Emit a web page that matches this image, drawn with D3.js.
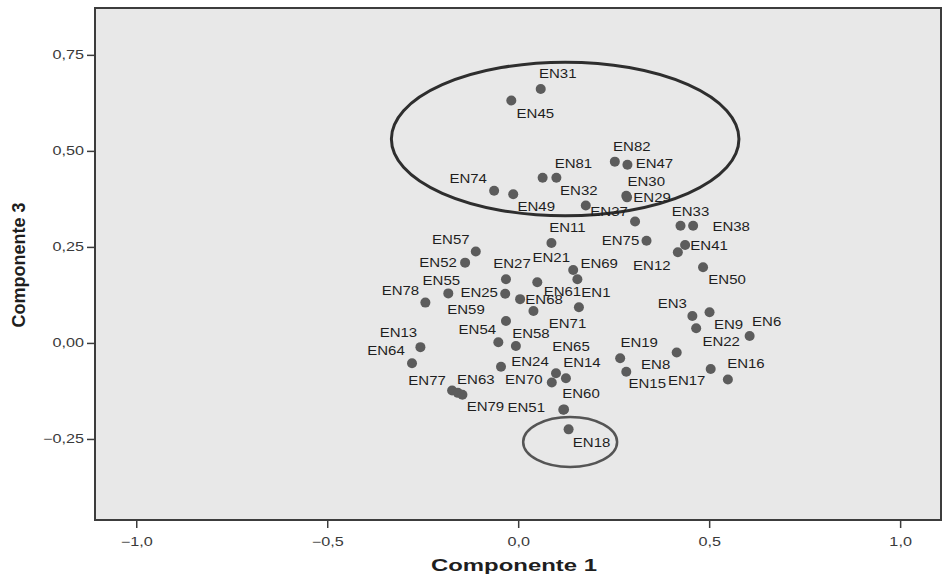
<!DOCTYPE html>
<html>
<head>
<meta charset="utf-8">
<script src="https://cdn.jsdelivr.net/npm/d3@7"></script>
<style>
  body { margin: 0; background: #fff; }
  text { font-family: "Liberation Sans", Arial, sans-serif; }
</style>
</head>
<body>
<script>
const w = 942;
const h = 580;

// point names and loadings (Componente 1, Componente 3)
const names = ["EN31", "EN45", "EN82", "EN47", "", "EN81", "EN74", "EN49", "EN32", "EN30",
  "EN29", "EN37", "EN33", "EN38", "EN11", "EN75", "EN41", "EN12", "EN50", "EN57",
  "EN52", "EN27", "EN21", "EN69", "EN61", "EN55", "EN25", "EN78", "EN68", "EN71",
  "EN1", "EN59", "EN54", "EN58", "EN65", "EN13", "EN64", "EN24", "EN14", "EN70",
  "EN77", "EN63", "EN79", "EN60", "EN51", "EN18", "EN3", "EN9", "EN22", "EN6",
  "EN19", "EN15", "EN8", "EN17", "EN16"];
const comp1 = [0.059, -0.018, 0.253, 0.286, 0.064, 0.100, -0.063, -0.013, 0.177, 0.283,
  0.285, 0.306, 0.425, 0.458, 0.087, 0.336, 0.437, 0.418, 0.484, -0.111,
  -0.139, -0.032, 0.050, 0.144, 0.155, -0.183, -0.034, -0.243, 0.005, 0.040,
  0.159, -0.032, -0.052, -0.006, 0.099, -0.256, -0.278, -0.045, 0.125, 0.088,
  -0.173, -0.158, -0.146, 0.120, 0.118, 0.132, 0.456, 0.501, 0.466, 0.606,
  0.267, 0.283, 0.415, 0.504, 0.549];
const comp3 = [0.661, 0.631, 0.472, 0.464, 0.430, 0.430, 0.396, 0.387, 0.358, 0.383,
  0.379, 0.316, 0.305, 0.305, 0.260, 0.266, 0.255, 0.236, 0.197, 0.238,
  0.209, 0.166, 0.158, 0.190, 0.166, 0.129, 0.128, 0.105, 0.114, 0.083,
  0.093, 0.057, 0.002, -0.008, -0.079, -0.011, -0.053, -0.062, -0.092, -0.103,
  -0.124, -0.130, -0.135, -0.173, -0.174, -0.225, 0.070, 0.080, 0.038, 0.018,
  -0.040, -0.075, -0.025, -0.068, -0.095];

const xTicks = [-1.0, -0.5, 0.0, 0.5, 1.0];
const yTicks = [-0.25, 0.0, 0.25, 0.5, 0.75];

// highlighted groups: [cx, cy, rx, ry] in data units
const groupEllipses = [[0.123, 0.531, 0.455, 0.2], [0.136, -0.258, 0.123, 0.065]];

// label placement around each dot (pixels)
const labelOffset = {
  EN31: [17, -15], EN45: [24, 13], EN82: [17, -15], EN47: [27, -1], EN81: [17, -14],
  EN74: [-26, -12], EN49: [23, 13], EN32: [-7, -14], EN30: [20, -14], EN29: [25, 1],
  EN37: [-26, -10], EN33: [10, -14], EN38: [38, 1], EN11: [16, -15], EN75: [-26, 0],
  EN41: [24, 1], EN12: [-26, 14], EN50: [24, 13], EN57: [-25, -12], EN52: [-27, 0],
  EN27: [6, -15], EN21: [14, -24], EN69: [26, -6], EN61: [-15, 13], EN55: [-7, -12],
  EN25: [-26, -1], EN78: [-25, -12], EN68: [24, 1], EN71: [34, 13], EN1: [17, -14],
  EN59: [-40, -11], EN54: [-21, -12], EN58: [15, -12], EN65: [15, -26], EN13: [-22, -14],
  EN64: [-26, -12], EN24: [29, -5], EN14: [16, -15], EN70: [-28, -3], EN77: [-25, -10],
  EN63: [18, -13], EN79: [23, 12], EN60: [17, -15], EN51: [-37, -2], EN18: [23, 14],
  EN3: [-20, -12], EN9: [19, 13], EN22: [25, 14], EN6: [17, -14], EN19: [19, -15],
  EN15: [21, 12], EN8: [-21, 12], EN17: [-24, 12], EN16: [18, -15]
};

const data = names.map((n, i) => ({ name: n, x: comp1[i], y: comp3[i] }));

const mLeft = 95, mRight = 941, mTop = 8, mBottom = 520;
// the source picture is wider than tall, so its lettering looks stretched
const tickStretch = 1.35, labelStretch = 1.2, titleStretch = 1.45;

const svg = d3.select("body").append("svg").attr("width", w).attr("height", h);

const xScale = d3.scaleLinear().domain([-1.108, 1.107]).range([mLeft, mRight]);
const yScale = d3.scaleLinear().domain([-0.461, 0.872]).range([mBottom, mTop]);

const fmt = (d, n) => d3.format("." + n + "f")(d).replace(".", ",");

// plot background
svg
  .append("rect")
  .attr("x", mLeft)
  .attr("y", mTop)
  .attr("width", mRight - mLeft)
  .attr("height", mBottom - mTop)
  .style("fill", "#e8e8e8")
  .style("stroke", "#3c3c3c")
  .style("stroke-width", 2);

//axes
const xAxis = d3.axisBottom(xScale).tickValues(xTicks).tickSize(8).tickSizeOuter(0).tickFormat((d) => fmt(d, 1));
const yAxis = d3.axisLeft(yScale).tickValues(yTicks).tickSize(8).tickSizeOuter(0).tickFormat((d) => fmt(d, 2));

const gx = svg
  .append("g")
  .attr("transform", "translate(0," + mBottom + ")")
  .call(xAxis);
const gy = svg
  .append("g")
  .attr("transform", "translate(" + mLeft + ",0)")
  .call(yAxis);

[gx, gy].forEach((g) => {
  g.select(".domain").remove();
  g.selectAll(".tick line").style("stroke", "#3c3c3c").style("stroke-width", 1.5);
  g.selectAll(".tick text")
    .style("font-size", "12px")
    .style("fill", "#3a3a3a")
    .style("font-family", '"Liberation Sans", Arial, sans-serif')
    .attr("transform", "scale(" + tickStretch + ",1)");
});
gx.selectAll(".tick text").attr("dy", "1.25em");
gy.selectAll(".tick text").attr("x", -11 / tickStretch);

// axis titles
svg
  .append("text")
  .attr("transform", "translate(514,571) scale(" + titleStretch + ",1)")
  .attr("text-anchor", "middle")
  .style("font-size", "16.5px")
  .style("font-weight", "bold")
  .style("fill", "#1e1e1e")
  .text("Componente 1");
svg
  .append("text")
  .attr("transform", "translate(25,265) rotate(-90)")
  .attr("text-anchor", "middle")
  .style("font-size", "18px")
  .style("font-weight", "bold")
  .style("fill", "#1e1e1e")
  .text("Componente 3");

// ellipses round the groups
svg
  .selectAll("ellipse")
  .data(groupEllipses)
  .enter()
  .append("ellipse")
  .attr("cx", (d) => xScale(d[0]))
  .attr("cy", (d) => yScale(d[1]))
  .attr("rx", (d) => xScale(d[2]) - xScale(0))
  .attr("ry", (d) => yScale(0) - yScale(d[3]))
  .style("fill", "none")
  .style("stroke", (d, i) => (i === 0 ? "#2e2e2e" : "#555"))
  .style("stroke-width", (d, i) => (i === 0 ? 3 : 2.5));

//dots
svg
  .selectAll("circle")
  .data(data)
  .enter()
  .append("circle")
  .attr("cx", (d) => xScale(d.x))
  .attr("cy", (d) => yScale(d.y))
  .attr("r", 5)
  .style("fill", "#5c5c5c");

// labels
svg
  .selectAll("text.lbl")
  .data(data.filter((d) => d.name !== ""))
  .enter()
  .append("text")
  .attr("class", "lbl")
  .attr("transform", (d) =>
    "translate(" + (xScale(d.x) + labelOffset[d.name][0]) + "," +
    (yScale(d.y) + labelOffset[d.name][1]) + ") scale(" + labelStretch + ",1)")
  .attr("text-anchor", "middle")
  .attr("dominant-baseline", "central")
  .style("font-size", "12.5px")
  .style("fill", "#1e1e1e")
  .text((d) => d.name);
</script>
</body>
</html>
